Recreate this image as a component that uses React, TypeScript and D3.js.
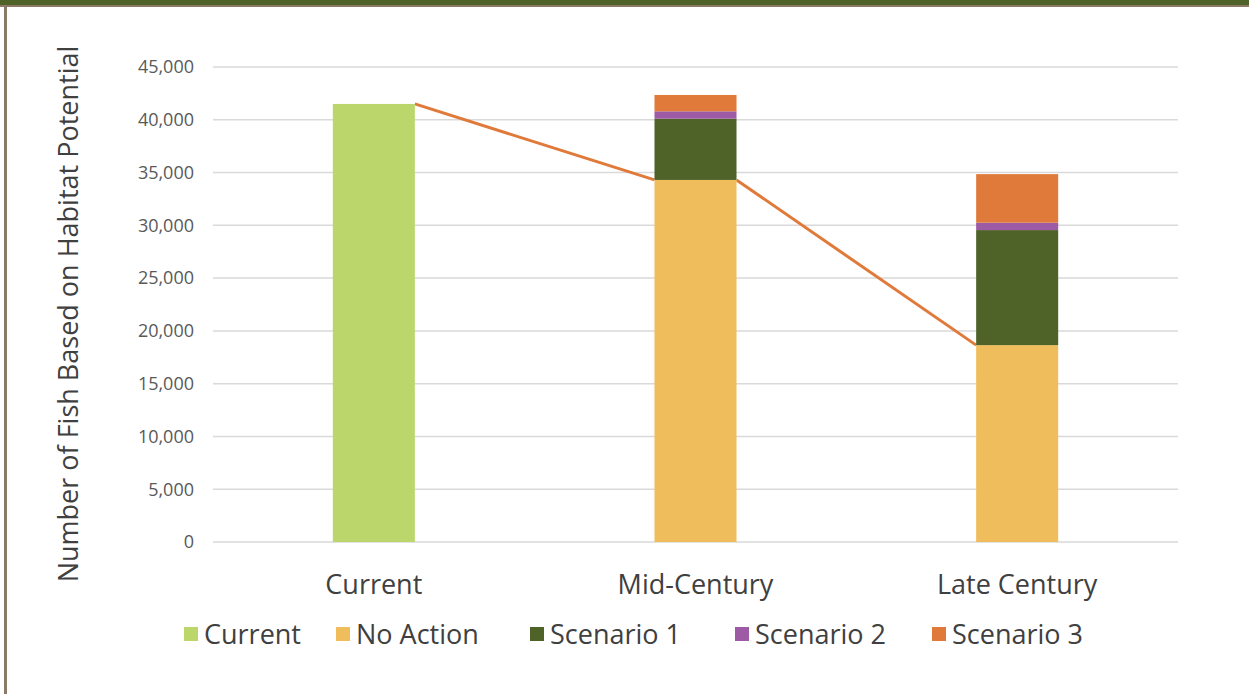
import React, { useEffect, useRef } from "react";
import * as d3 from "d3";

const categories = ["Current", "Mid-Century", "Late Century"];
const seriesNames = ["Current", "No Action", "Scenario 1", "Scenario 2", "Scenario 3"];
const currentValues = [41500, 0, 0];
const noActionValues = [0, 34300, 18650];
const scenario1Values = [0, 5800, 10900];
const scenario2Values = [0, 700, 700];
const scenario3Values = [0, 1550, 4600];
const yTicks = [0, 5000, 10000, 15000, 20000, 25000, 30000, 35000, 40000, 45000];
const colors = ["#BBD76C", "#F0BD5C", "#4F6228", "#9D5AA5", "#E07A3A"];
const legendX = [184, 336, 530, 735, 932];

const W = 1249;
const H = 694;
const FONT = "'Open Sans', 'Noto Sans', sans-serif";

export default function App() {
  const ref = useRef<SVGSVGElement | null>(null);
  useEffect(() => {
    const svg = d3.select(ref.current);
    svg.selectAll("*").remove();

    // frame
    svg.append("rect").attr("x", 0).attr("y", 0).attr("width", W).attr("height", H).attr("fill", "#fff");
    svg.append("rect").attr("x", 0).attr("y", 0).attr("width", W).attr("height", 5).attr("fill", "#4F6228");
    svg.append("rect").attr("x", 0).attr("y", 5).attr("width", W).attr("height", 2).attr("fill", "#8B7B66");
    svg.append("rect").attr("x", 4).attr("y", 5).attr("width", 3).attr("height", H - 5).attr("fill", "#8B7B66");

    const x = d3.scaleBand().domain(categories).range([213, 1178]).paddingInner(0.745).paddingOuter(0.3725);
    const y = d3.scaleLinear().domain([0, 45000]).range([542, 67]);

    // grid
    svg.append("g").selectAll("line").data(yTicks).join("line")
      .attr("x1", 213).attr("x2", 1178)
      .attr("y1", (d) => y(d)).attr("y2", (d) => y(d))
      .attr("stroke", "#D9D9D9").attr("stroke-width", 1.5);

    // y tick labels
    svg.append("g").selectAll("text").data(yTicks).join("text")
      .attr("x", 194).attr("y", (d) => y(d)).attr("dy", "0.35em")
      .attr("text-anchor", "end").attr("font-family", FONT).attr("font-size", 18)
      .attr("fill", "#595959").text((d) => d3.format(",")(d));

    // stacked data
    const table = categories.map((c, i) => ({
      cat: c,
      "Current": currentValues[i],
      "No Action": noActionValues[i],
      "Scenario 1": scenario1Values[i],
      "Scenario 2": scenario2Values[i],
      "Scenario 3": scenario3Values[i],
    }));
    const stacked = d3.stack<any>().keys(seriesNames)(table);

    // series line (connects Current / No Action tops)
    const lineVals = categories.map((_, i) => currentValues[i] + noActionValues[i]);
    const pts: [number, number][] = [];
    categories.forEach((c, i) => {
      const x0 = x(c)!;
      const x1 = x0 + x.bandwidth();
      if (i > 0) pts.push([x0, y(lineVals[i])]);
      if (i < categories.length - 1) pts.push([x1, y(lineVals[i])]);
    });
    for (let i = 0; i + 1 < pts.length; i += 2) {
      svg.append("line")
        .attr("x1", pts[i][0]).attr("y1", pts[i][1])
        .attr("x2", pts[i + 1][0]).attr("y2", pts[i + 1][1])
        .attr("stroke", "#E07A3A").attr("stroke-width", 3);
    }

    stacked.forEach((s, si) => {
      svg.append("g").selectAll("rect").data(s.filter((d) => d[1] - d[0] > 0)).join("rect")
        .attr("x", (d: any) => x(d.data.cat)!)
        .attr("width", x.bandwidth())
        .attr("y", (d) => y(d[1]))
        .attr("height", (d) => y(d[0]) - y(d[1]))
        .attr("fill", colors[si]);
    });

    // x labels
    svg.append("g").selectAll("text").data(categories).join("text")
      .attr("x", (d) => x(d)! + x.bandwidth() / 2).attr("y", 594)
      .attr("text-anchor", "middle").attr("font-family", FONT).attr("font-size", 27)
      .attr("fill", "#404040").text((d) => d);

    // y title
    svg.append("text")
      .attr("transform", "translate(78,314) rotate(-90)")
      .attr("text-anchor", "middle").attr("font-family", FONT).attr("font-size", 27)
      .attr("fill", "#404040").text("Number of Fish Based on Habitat Potential");

    // legend
    const lg = svg.append("g").selectAll("g").data(seriesNames).join("g")
      .attr("transform", (_, i) => `translate(${legendX[i]},0)`);
    lg.append("rect").attr("x", 0).attr("y", 627).attr("width", 14).attr("height", 14)
      .attr("fill", (_, i) => colors[i]);
    lg.append("text").attr("x", 20).attr("y", 644)
      .attr("font-family", FONT).attr("font-size", 27).attr("fill", "#404040")
      .text((d) => d);
  }, []);
  return <svg ref={ref} width={W} height={H} style={{ display: "block", position: "absolute", left: 0, top: 0 }} />;
}
